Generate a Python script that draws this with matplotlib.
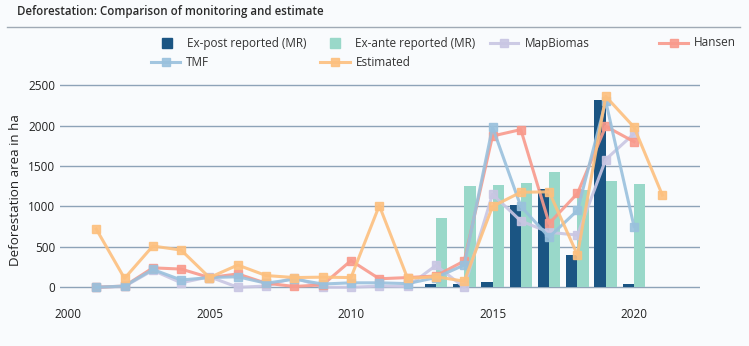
import numpy as np
import matplotlib
matplotlib.use('Agg')
import matplotlib.pyplot as plt
from matplotlib.lines import Line2D

plt.rcParams['font.family'] = ['Open Sans', 'DejaVu Sans']

years = np.arange(2001, 2022)

# barras (solo hay datos de 2013 a 2020)
bar_years = np.arange(2013, 2021)
ex_post = [45, 45, 65, 1020, 1210, 395, 2315, 40]
ex_ante = [860, 1250, 1270, 1285, 1420, 1200, 1310, 1280]

line_years = np.arange(2001, 2021)
mapbiomas = [0, 10, 210, 55, 130, 0, 15, 120, 0, 0, 15, 10, 270, 0,
             1150, 820, 680, 645, 1580, 1900]
hansen = [0, 15, 240, 225, 120, 165, 50, 10, 30, 330, 105, 120, 140, 325,
          1870, 1950, 790, 1160, 1990, 1800]
tmf = [0, 15, 220, 90, 120, 130, 50, 100, 40, 55, 55, 45, 120, 275,
       1980, 1000, 620, 950, 2300, 750]
estimated = [720, 110, 510, 460, 120, 275, 145, 120, 125, 120, 1010, 110,
             130, 75, 1000, 1175, 1180, 400, 2360, 1980, 1140]

c_post = '#1b5583'
c_ante = '#99d8c9'
c_map = '#c9c6e3'
c_han = '#f89a8c'
c_tmf = '#9ac1dd'
c_est = '#fdc07f'
bg = '#f9fbfd'
W, H = 749, 346

fig = plt.figure(figsize=(7.49, 3.46), dpi=100)
fig.patch.set_facecolor(bg)
ax = fig.add_axes([60 / W, 0.1347, 640 / W, 0.631])
ax.set_facecolor(bg)

w = 0.4
ax.bar(bar_years - w / 2, ex_post, width=w, color=c_post, zorder=2)
ax.bar(bar_years + w / 2, ex_ante, width=w, color=c_ante, zorder=2)

kw = dict(lw=2.2, marker='s', ms=6, alpha=0.9, zorder=3)
ax.plot(line_years, mapbiomas, color=c_map, **kw)
ax.plot(line_years, hansen, color=c_han, **kw)
ax.plot(line_years, tmf, color=c_tmf, **kw)
ax.plot(years, estimated, color=c_est, **kw)

ax.set_xlim(1999.72, 2022.33)
ax.set_ylim(-150, 2550)
ax.set_yticks(np.arange(0, 2501, 500))
ax.set_xticks(np.arange(2000, 2021, 5))
ax.grid(axis='y', color='#8ea3b8', lw=1, zorder=0)
for s in ax.spines.values():
    s.set_visible(False)
ax.tick_params(length=0, labelsize=8.5, colors='#222222')
ax.tick_params(axis='x', pad=6)
ax.set_ylabel('Deforestation area in ha', fontsize=9.6, color='#222222')
ax.yaxis.set_label_coords(-0.059, 0.5)

fig.text(17 / W, 1 - 11 / H, 'Deforestation: Comparison of monitoring and estimate',
         fontsize=8.3, fontweight='semibold', color='#2a2a2a', va='center')
fig.add_artist(Line2D([7 / W, 740 / W], [1 - 27 / H] * 2, color='#a0aab5', lw=1))


def fx(px):
    return px / W


def fy(py):
    return 1 - py / H


# leyenda puesta a mano: (tipo, color, x0, x1, x_texto, y, texto)
leyenda = [
    ('bar', c_post, 162, 172, 187, 43, 'Ex-post reported (MR)'),
    ('bar', c_ante, 330, 340, 355, 43, 'Ex-ante reported (MR)'),
    ('line', c_map, 490, 518, 525, 43, 'MapBiomas'),
    ('line', c_han, 659, 688, 694, 43, 'Hansen'),
    ('line', c_tmf, 151, 180, 186, 62, 'TMF'),
    ('line', c_est, 320, 350, 356, 62, 'Estimated'),
]
for tipo, col, x0, x1, xt, py, txt in leyenda:
    xm = (x0 + x1) / 2
    if tipo == 'bar':
        fig.add_artist(Line2D([fx(xm)], [fy(py)], ls='none', marker='s', ms=7.5,
                              color=col))
    else:
        fig.add_artist(Line2D([fx(x0), fx(x1)], [fy(py)] * 2, lw=2.2, color=col,
                              alpha=0.9))
        fig.add_artist(Line2D([fx(xm)], [fy(py)], ls='none', marker='s', ms=6,
                              color=col, alpha=0.9))
    fig.text(fx(xt), fy(py), txt, fontsize=8.5, color='#333333', va='center')

plt.savefig('out.png', dpi=100, facecolor=bg)
